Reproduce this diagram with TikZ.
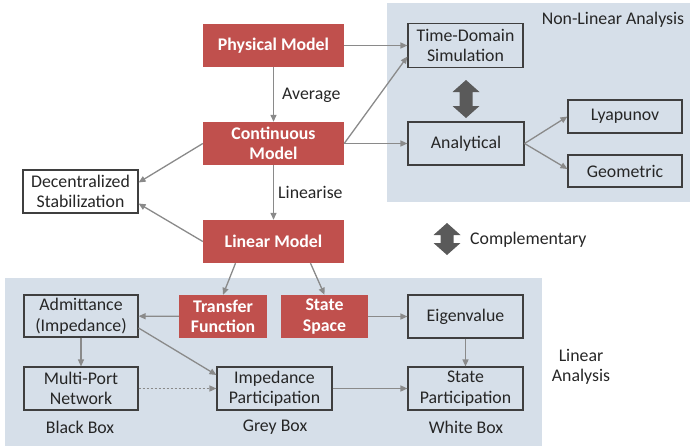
\documentclass[tikz,border=0pt]{standalone}
\usepackage{fontspec}
\setmainfont{Carlito}
\usetikzlibrary{arrows.meta}
\definecolor{modelred}{HTML}{C0504D}
\definecolor{panelblue}{HTML}{D6DFE9}
\definecolor{linkgray}{HTML}{8A8A8A}
\definecolor{boxedge}{HTML}{3F3F3F}
\definecolor{bigarrow}{HTML}{5A5A5A}
\definecolor{inktext}{HTML}{262626}
\begin{document}
\begin{tikzpicture}[x=1pt,y=-1pt,
  every node/.style={font=\fontsize{17.8}{20.5}\selectfont, text=inktext, inner sep=0pt},
  modelbox/.style={fill=modelred, text=white, font=\fontsize{17.8}{20.5}\selectfont\bfseries, align=center},
  methodbox/.style={draw=boxedge, line width=1.1pt, align=center},
  link/.style={draw=linkgray, line width=1.3pt, -{Triangle[length=7pt,width=6pt]}},
  panel/.style={fill=panelblue},
  swap/.style={fill=bigarrow},
  lbl/.style={align=center}]
\useasboundingbox (0,0) rectangle (693,447);

% analysis regions
\fill[panel] (387,3) rectangle (690,202);
\fill[panel] (5,278) rectangle (542,446);

% model chain
\node[modelbox, minimum width=141pt, minimum height=43pt] (phys) at (273.5,45.5) {Physical Model};
\node[modelbox, minimum width=141pt, minimum height=43pt] (cont) at (273.5,143.5) {Continuous\\Model};
\node[modelbox, minimum width=141pt, minimum height=43pt] (lin) at (273.5,241.5) {Linear Model};
\node[modelbox, minimum width=88pt, minimum height=43pt] (tf) at (223,316.5) {Transfer\\Function};
\node[modelbox, minimum width=87pt, minimum height=43pt] (ss) at (324.5,316.5) {State\\Space};

% method boxes
\node[methodbox, fill=white, minimum width=115pt, minimum height=43pt] (dec) at (80.5,191.5) {Decentralized\\Stabilization};
\node[methodbox, minimum width=115pt, minimum height=44pt] (tds) at (465.5,45.5) {Time-Domain\\Simulation};
\node[methodbox, minimum width=116pt, minimum height=43pt] (ana) at (466,143.5) {Analytical};
\node[methodbox, minimum width=114pt, minimum height=33pt] (lya) at (625,116.5) {Lyapunov};
\node[methodbox, minimum width=114pt, minimum height=32pt] (geo) at (625,171) {Geometric};
\node[methodbox, minimum width=114pt, minimum height=42pt] (adm) at (81,316) {Admittance\\(Impedance)};
\node[methodbox, minimum width=114pt, minimum height=43pt] (mpn) at (81,388.5) {Multi-Port\\Network};
\node[methodbox, minimum width=115pt, minimum height=43pt] (ipp) at (274.5,388.5) {Impedance\\Participation};
\node[methodbox, minimum width=115pt, minimum height=43pt] (eig) at (465.5,316.5) {Eigenvalue};
\node[methodbox, minimum width=115pt, minimum height=43pt] (spp) at (465.5,388.5) {State\\Participation};

% labels
\node[anchor=west] (avg) at (282,95) {Average};
\node[anchor=west] (linz) at (278,192) {Linearise};
\node (nla) at (613,20) {Non-Linear Analysis};
\node[anchor=west] (comp) at (470,240) {Complementary};
\node[lbl] (la) at (581,367) {Linear\\Analysis};
\node (bb) at (80,427) {Black Box};
\node (gb) at (275,427) {Grey Box};
\node (wb) at (466,427) {White Box};

% connectors
\draw[link] (phys) -- (tds);
\draw[link] (phys) -- (cont);
\draw[link] (cont.east) -- ([yshift=-11pt]tds.west);
\draw[link] (cont) -- (ana);
\draw[link] (cont.west) -- ([yshift=9pt]dec.east);
\draw[link] (cont) -- (lin);
\draw[link] (lin.west) -- ([yshift=-12pt]dec.east);
\draw[link] ([xshift=-38pt]lin.south) -- (tf.north);
\draw[link] ([xshift=37pt]lin.south) -- (ss.north);
\draw[link] (ana.east) -- (lya.west);
\draw[link] (ana.east) -- ([yshift=2pt]geo.west);
\draw[link] (tf) -- (adm);
\draw[link] (adm) -- (mpn);
\draw[link] ([yshift=-12pt]adm.east) -- ([yshift=13.5pt]ipp.west);
\draw[link, dash pattern=on 2pt off 2pt] (mpn) -- (ipp);
\draw[link] (ipp) -- (spp);
\draw[link] (ss) -- (eig);
\draw[link] (eig) -- (spp);

% two-way block arrows
\fill[swap] (466,80) -- (479.5,92) -- (472.5,92) -- (472.5,106) -- (479.5,106) -- (466,118)
  -- (452.5,106) -- (459.5,106) -- (459.5,92) -- (452.5,92) -- cycle;
\fill[swap] (447,223) -- (460.5,235) -- (453.5,235) -- (453.5,243) -- (460.5,243) -- (447,255)
  -- (433.5,243) -- (440.5,243) -- (440.5,235) -- (433.5,235) -- cycle;
\end{tikzpicture}
\end{document}
